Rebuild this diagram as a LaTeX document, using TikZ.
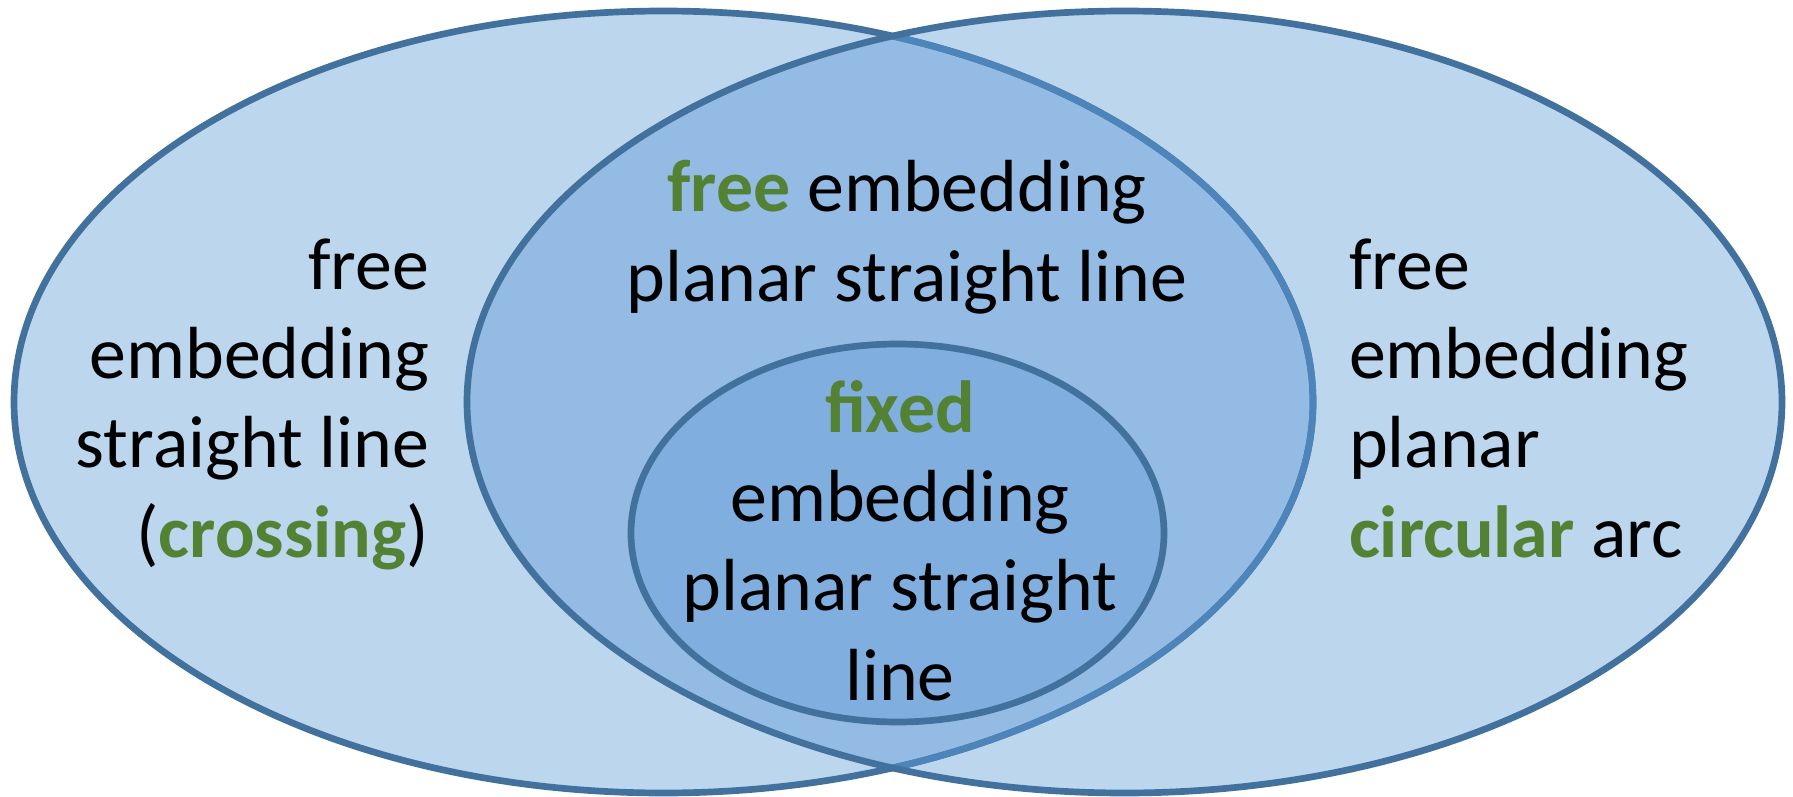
\documentclass[tikz,border=0pt]{standalone}
\usepackage{fontspec}
\setmainfont{Carlito}
\definecolor{outerfill}{HTML}{BCD6EE}
\definecolor{lensfill}{HTML}{93BBE3}
\definecolor{innerfill}{HTML}{80AEDE}
\definecolor{edgedark}{HTML}{41719C}
\definecolor{edgelight}{HTML}{4D84BA}
\definecolor{accent}{HTML}{548235}
\tikzset{
  edge/.style={draw=edgedark, line width=1.9pt},
  label/.style={inner sep=0pt, outer sep=0pt, font=\fontsize{21}{25.4}\selectfont},
}
\newcommand{\hl}[1]{\textcolor{accent}{\textbf{#1}}}
\begin{document}
\begin{tikzpicture}[x=0.01cm, y=-0.01cm]
\useasboundingbox (0,0) rectangle (1793,797);
\coordinate (L) at (663.5,402);
\coordinate (R) at (1124.5,402);
\coordinate (I) at (897.5,533);
% fills
\fill[outerfill] (L) ellipse [x radius=649.5, y radius=391];
\fill[outerfill] (R) ellipse [x radius=657.5, y radius=391];
\begin{scope}
  \clip (L) ellipse [x radius=649.5, y radius=391];
  \fill[lensfill] (R) ellipse [x radius=657.5, y radius=391];
\end{scope}
% outlines
\draw[edge] (L) ellipse [x radius=649.5, y radius=391];
\begin{scope}
  \clip (R) ellipse [x radius=657.5, y radius=391];
  \draw[edge, draw=edgelight] (L) ellipse [x radius=649.5, y radius=391];
\end{scope}
\draw[edge] (R) ellipse [x radius=657.5, y radius=391];
% inner ellipse
\fill[innerfill] (I) ellipse [x radius=266.5, y radius=189];
\draw[edge] (I) ellipse [x radius=266.5, y radius=189];
% texts (base anchor = baseline of last line)
\node[label, anchor=base east, align=right] (lefttext) at (429,557)
  {free\\embedding\\straight line\\(\hl{crossing})};
\node[label, anchor=base west, align=left] (righttext) at (1349,557)
  {free\\embedding\\planar\\\hl{circular} arc};
\node[label, anchor=base, align=center] (toptext) at (907,301)
  {\hl{free} embedding\\planar straight line};
\node[label, anchor=base, align=center] (innertext) at (900,700)
  {\hl{fixed}\\embedding\\planar straight\\line};
\end{tikzpicture}
\end{document}
